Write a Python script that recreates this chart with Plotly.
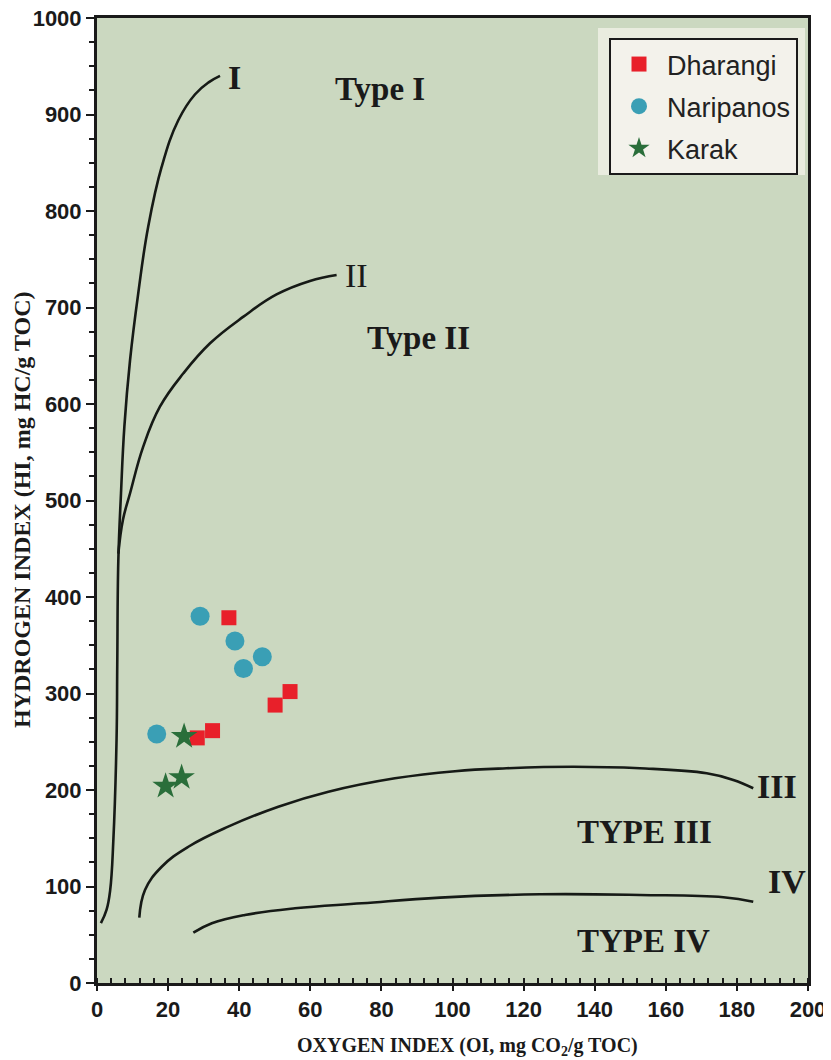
import plotly.graph_objects as go

# ---- sample data (OI, HI) ----
dharangi_oi = [37.1, 54.3, 50.1, 32.5, 28.2]
dharangi_hi = [378.5, 302.0, 288.0, 261.5, 254.0]
naripanos_oi = [29.0, 38.8, 46.5, 41.2, 16.8]
naripanos_hi = [380.0, 354.5, 338.0, 326.0, 258.0]
karak_oi = [24.5, 23.8, 19.3]
karak_hi = [255.5, 213.0, 204.0]

# ---- kerogen type boundary curves ----
curve1_oi = [1.1, 2.7, 3.7, 4.6, 5.5, 5.7, 6.0, 6.75, 7.7, 9.3, 11.6, 14.4, 18.2, 22.9, 27.6, 31.5, 34.6]
curve1_hi = [62, 76, 96, 148, 252, 330, 438, 507.5, 576.5, 645.6, 714.7, 783.7, 845.9, 894.3, 921.0, 933.5, 940.0]
curve2_oi = [6.0, 7.3, 9.3, 13.0, 17.7, 24.3, 31.8, 41.2, 50.5, 59.9, 67.4]
curve2_hi = [445, 480, 507.5, 555.8, 597.2, 631.8, 662.9, 690.5, 713.5, 727.5, 733.7]
curve3_oi = [11.9, 13.5, 18.2, 25.7, 36.9, 51.0, 65.1, 83.8, 100.7, 115.2, 134.0, 152.7, 171.5, 179.0, 184.6]
curve3_hi = [67.7, 96.4, 120.5, 141.2, 162.0, 182.7, 198.2, 212.1, 219.5, 222.5, 224.1, 222.5, 217.3, 210.4, 201.8]
curve4_oi = [27.1, 32.3, 41.6, 55.7, 74.5, 96.5, 124.6, 152.7, 176.2, 184.6]
curve4_hi = [52.1, 61.9, 70.5, 77.4, 82.6, 88.5, 91.9, 91.2, 88.8, 84.2]

# ---- labels ----
curve_labels = ["I", "II", "III", "IV"]
curve_label_oi = [38.8, 73.1, 191.3, 194.0]
curve_label_hi = [938, 733, 204, 105]
curve_label_bold = [True, False, True, True]
type_labels = ["Type I", "Type II", "TYPE III", "TYPE IV"]
type_label_oi = [79.6, 90.3, 154.1, 153.6]
type_label_hi = [926, 668, 156, 44]

x_ticks = [0, 20, 40, 60, 80, 100, 120, 140, 160, 180, 200]
y_ticks = [0, 100, 200, 300, 400, 500, 600, 700, 800, 900, 1000]

# the page body adds an 8px offset; margins compensate so the plot area
# lands at x 97..808, y 18..983 in the window
OFF = 8
W, H = 831, 1060
ML, MR, MT, MB = 97 - OFF, 23 + OFF, 18 - OFF, 77 + OFF

fig = go.Figure()

line_style = dict(color="#161a16", width=2.6, shape="spline", smoothing=1.2)
for cx, cy in [(curve1_oi, curve1_hi), (curve2_oi, curve2_hi),
               (curve3_oi, curve3_hi), (curve4_oi, curve4_hi)]:
    fig.add_trace(go.Scatter(x=cx, y=cy, mode="lines", line=line_style,
                             showlegend=False, hoverinfo="skip"))

fig.add_trace(go.Scatter(x=dharangi_oi, y=dharangi_hi, mode="markers", name="Dharangi",
                         legendgroup="d",
                         marker=dict(symbol="square", size=15, color="#e8202a")))
fig.add_trace(go.Scatter(x=naripanos_oi, y=naripanos_hi, mode="markers", name="Naripanos",
                         legendgroup="n",
                         marker=dict(symbol="circle", size=19, color="#3a9fb5")))
fig.add_trace(go.Scatter(x=karak_oi, y=karak_hi, mode="markers", name="Karak",
                         legendgroup="k",
                         marker=dict(symbol="star", size=20, color="#2a6e3a")))

serif = "Liberation Serif"
for t, x, y, b in zip(curve_labels, curve_label_oi, curve_label_hi, curve_label_bold):
    fig.add_annotation(x=x, y=y, text=t, showarrow=False, xanchor="center", yanchor="middle",
                       font=dict(family=serif, size=34, color="#1a1a1a",
                                 weight="bold" if b else "normal"))
for t, x, y in zip(type_labels, type_label_oi, type_label_hi):
    fig.add_annotation(x=x, y=y, text=t, showarrow=False, xanchor="center", yanchor="middle",
                       font=dict(family=serif, size=33, color="#1a1a1a", weight="bold"))

# axis titles (positions given in window pixels, converted to paper coords)
pw, ph = W - ML - MR, H - MT - MB
def px_to_paper(px, py):
    return (px - OFF - ML) / pw, (H - MB + OFF - py) / ph

tx, ty = px_to_paper(22, 510)
fig.add_annotation(xref="paper", yref="paper", x=tx, y=ty, xanchor="center", yanchor="middle",
                   text="HYDROGEN INDEX (HI, mg HC/g TOC)", textangle=-90, showarrow=False,
                   font=dict(family=serif, size=24, color="#1a1a1a", weight="bold"))
tx, ty = px_to_paper(467, 1046)
fig.add_annotation(xref="paper", yref="paper", x=tx, y=ty, xanchor="center", yanchor="middle",
                   text="OXYGEN INDEX (OI, mg CO<sub>2</sub>/g TOC)", showarrow=False,
                   font=dict(family=serif, size=20, color="#1a1a1a", weight="bold"))

# outer light frame behind legend
x0, y0 = px_to_paper(598, 175)
x1, y1 = px_to_paper(805, 28)
fig.add_shape(type="rect", xref="paper", yref="paper", layer="below",
              x0=x0, x1=x1, y0=y0, y1=y1,
              fillcolor="#e9ecdf", line=dict(width=0))

axis_common = dict(showgrid=False, zeroline=False, showline=True, linecolor="#1a1a1a",
                   linewidth=3, mirror=True, ticks="outside", tickcolor="#1a1a1a",
                   tickwidth=2, automargin=False, ticklabeloverflow="allow",
                   tickfont=dict(family="Liberation Sans", size=22, color="#1a1a1a", weight="bold"))

fig.update_xaxes(range=[0, 200], tickvals=x_ticks, ticklen=5, **axis_common,
                 minor=dict(dtick=4, ticks="inside", ticklen=5, tickwidth=2, tickcolor="#1a1a1a"))
fig.update_yaxes(range=[0, 1000], tickvals=y_ticks, ticklen=8, **axis_common,
                 minor=dict(dtick=25, ticks="outside", ticklen=5, tickwidth=2, tickcolor="#1a1a1a"))

lx, ly = px_to_paper(798, 38)
fig.update_layout(
    width=W, height=H,
    margin=dict(l=ML, r=MR, t=MT, b=MB, autoexpand=False),
    paper_bgcolor="white",
    plot_bgcolor="#cbd8c0",
    legend=dict(x=lx, y=ly, xanchor="right", yanchor="top",
                bgcolor="#f3f2eb", bordercolor="#1a1a1a", borderwidth=2,
                font=dict(family="Liberation Sans", size=27, color="#222222"),
                tracegroupgap=4, itemsizing="trace", itemwidth=46),
)

fig.write_html("out.html")
